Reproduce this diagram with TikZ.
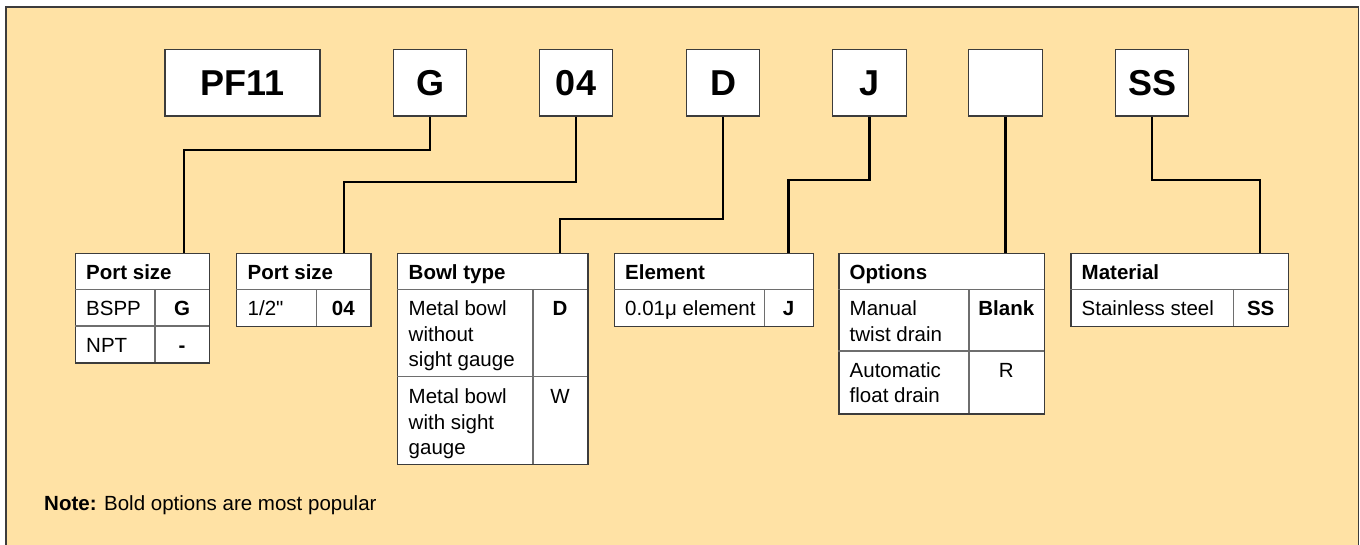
\documentclass[tikz,border=0pt]{standalone}
\usepackage{fontspec}
\setmainfont{Liberation Sans}
\newfontfamily\plainfont{Liberation Sans}
\definecolor{bgyellow}{RGB}{255,226,165}
\definecolor{edge}{RGB}{60,60,60}
\definecolor{inner}{RGB}{110,110,110}
\tikzset{
  codebox/.style={draw=edge, line width=1.4pt, fill=white, minimum height=66.7pt, inner sep=0pt,
    font=\fontsize{36}{40}\selectfont\bfseries, text height=25.8pt, text depth=0pt},
  tablebox/.style={draw=edge, line width=1.4pt, fill=white, inner sep=0pt, anchor=north west},
  innerline/.style={draw=inner, line width=1.1pt},
  conn/.style={draw=black, line width=2.3pt},
  txt/.style={anchor=base west, inner sep=0pt, font=\fontsize{20.5}{25.5}\selectfont},
  btxt/.style={anchor=base west, inner sep=0pt, font=\fontsize{20.5}{25.5}\selectfont\bfseries},
  ctxt/.style={anchor=base, inner sep=0pt, font=\fontsize{20.5}{25.5}\selectfont},
  cbtxt/.style={anchor=base, inner sep=0pt, font=\fontsize{20.5}{25.5}\selectfont\bfseries},
}
\begin{document}
\begin{tikzpicture}[x=1pt,y=-1pt]
\useasboundingbox (0,0) rectangle (1360,544);
% background panel
\fill[bgyellow] (6,7) rectangle (1358.5,548);
\draw[edge, line width=1.4pt] (6,548) -- (6,7) -- (1358.5,7) -- (1358.5,548);

% code boxes
\node[codebox, minimum width=155pt] (cPF) at (242.5,82.7) {PF11};
\node[codebox, minimum width=73.5pt] (cG) at (430,82.7) {G};
\node[codebox, minimum width=73.5pt] (c04) at (576,82.7) {04};
\node[codebox, minimum width=73.5pt] (cD) at (723,82.7) {D};
\node[codebox, minimum width=73.5pt] (cJ) at (869.5,82.7) {J};
\node[codebox, minimum width=73.5pt] (cB) at (1005.5,82.7) {};
\node[codebox, minimum width=73.5pt] (cSS) at (1152,82.7) {SS};

% Table 1: Port size
\node[tablebox, minimum width=134.3pt, minimum height=109.6pt] (t1) at (74.7,252.7) {};
\draw[innerline] (74.7,289.3) -- (209,289.3);
\draw[innerline] (74.7,326) -- (209,326);
\draw[innerline] (155,289.3) -- (155,362.3);
\node[btxt] at (86,279) {Port size};
\node[txt] at (86,315.5) {BSPP};
\node[cbtxt] at (182,315.5) {G};
\node[txt] at (86,352) {NPT};
\node[cbtxt] at (182,352) {-};
\coordinate (a1) at (184,252.7);

% Table 2: Port size
\node[tablebox, minimum width=134.3pt, minimum height=73.3pt] (t2) at (236,252.7) {};
\draw[innerline] (236,289.3) -- (370.3,289.3);
\draw[innerline] (316.3,289.3) -- (316.3,326);
\node[btxt] at (247.5,279) {Port size};
\node[txt] at (247.5,315.5) {\plainfont 1/2"};
\node[cbtxt] at (343.3,315.5) {04};
\coordinate (a2) at (344.3,252.7);

% Table 3: Bowl type
\node[tablebox, minimum width=190.3pt, minimum height=211.3pt] (t3) at (397,252.7) {};
\draw[innerline] (397,289.3) -- (587.3,289.3);
\draw[innerline] (397,376.7) -- (587.3,376.7);
\draw[innerline] (533,289.3) -- (533,464);
\node[btxt] at (408.5,279) {Bowl type};
\node[txt] at (408.5,315.5) {Metal bowl};
\node[txt] at (408.5,341) {without};
\node[txt] at (408.5,366.5) {sight gauge};
\node[cbtxt] at (560,315.5) {D};
\node[txt] at (408.5,403.5) {Metal bowl};
\node[txt] at (408.5,429) {with sight};
\node[txt] at (408.5,454.5) {gauge};
\node[ctxt] at (560,403.5) {W};
\coordinate (a3) at (560.3,252.7);

% Table 4: Element
\node[tablebox, minimum width=199.3pt, minimum height=73.3pt] (t4) at (613.7,252.7) {};
\draw[innerline] (613.7,289.3) -- (813,289.3);
\draw[innerline] (764.3,289.3) -- (764.3,326);
\node[btxt] at (625,279) {Element};
\node[txt] at (625,315.5) {0.01μ element};
\node[cbtxt] at (788.6,315.5) {J};
\coordinate (a4) at (788.6,252.7);

% Table 5: Options
\node[tablebox, minimum width=205.4pt, minimum height=160.6pt] (t5) at (838.3,252.7) {};
\draw[innerline] (838.3,289.3) -- (1043.7,289.3);
\draw[innerline] (838.3,351) -- (1043.7,351);
\draw[innerline] (969,289.3) -- (969,413.3);
\node[btxt] at (849.5,279) {Options};
\node[txt] at (849.5,315.5) {Manual};
\node[txt] at (849.5,341) {twist drain};
\node[cbtxt] at (1006.3,315.5) {Blank};
\node[txt] at (849.5,377.2) {Automatic};
\node[txt] at (849.5,402.7) {float drain};
\node[ctxt] at (1006.3,377.2) {R};
\coordinate (a5) at (1005.5,252.7);

% Table 6: Material
\node[tablebox, minimum width=217.4pt, minimum height=73pt] (t6) at (1070.3,252.7) {};
\draw[innerline] (1070.3,289.3) -- (1287.7,289.3);
\draw[innerline] (1233.7,289.3) -- (1233.7,325.7);
\node[btxt] at (1081.5,279) {Material};
\node[txt] at (1081.5,315.5) {Stainless steel};
\node[cbtxt] at (1260.7,315.5) {SS};
\coordinate (a6) at (1260,252.7);

% connectors
\draw[conn] (cG.south) -- ++(0,33) -| (a1);
\draw[conn] (c04.south) -- ++(0,65) -| (a2);
\draw[conn] (cD.south) -- ++(0,102) -| (a3);
\draw[conn] (cJ.south) -- ++(0,63) -| (a4);
\draw[conn] (cB.south) -- (a5);
\draw[conn] (cSS.south) -- ++(0,63) -| (a6);

% note
\node[anchor=base west, inner sep=0pt, font=\fontsize{20.5}{25.5}\selectfont] (note) at (44,510.5) {\textbf{Note:} Bold options are most popular};
\end{tikzpicture}
\end{document}
